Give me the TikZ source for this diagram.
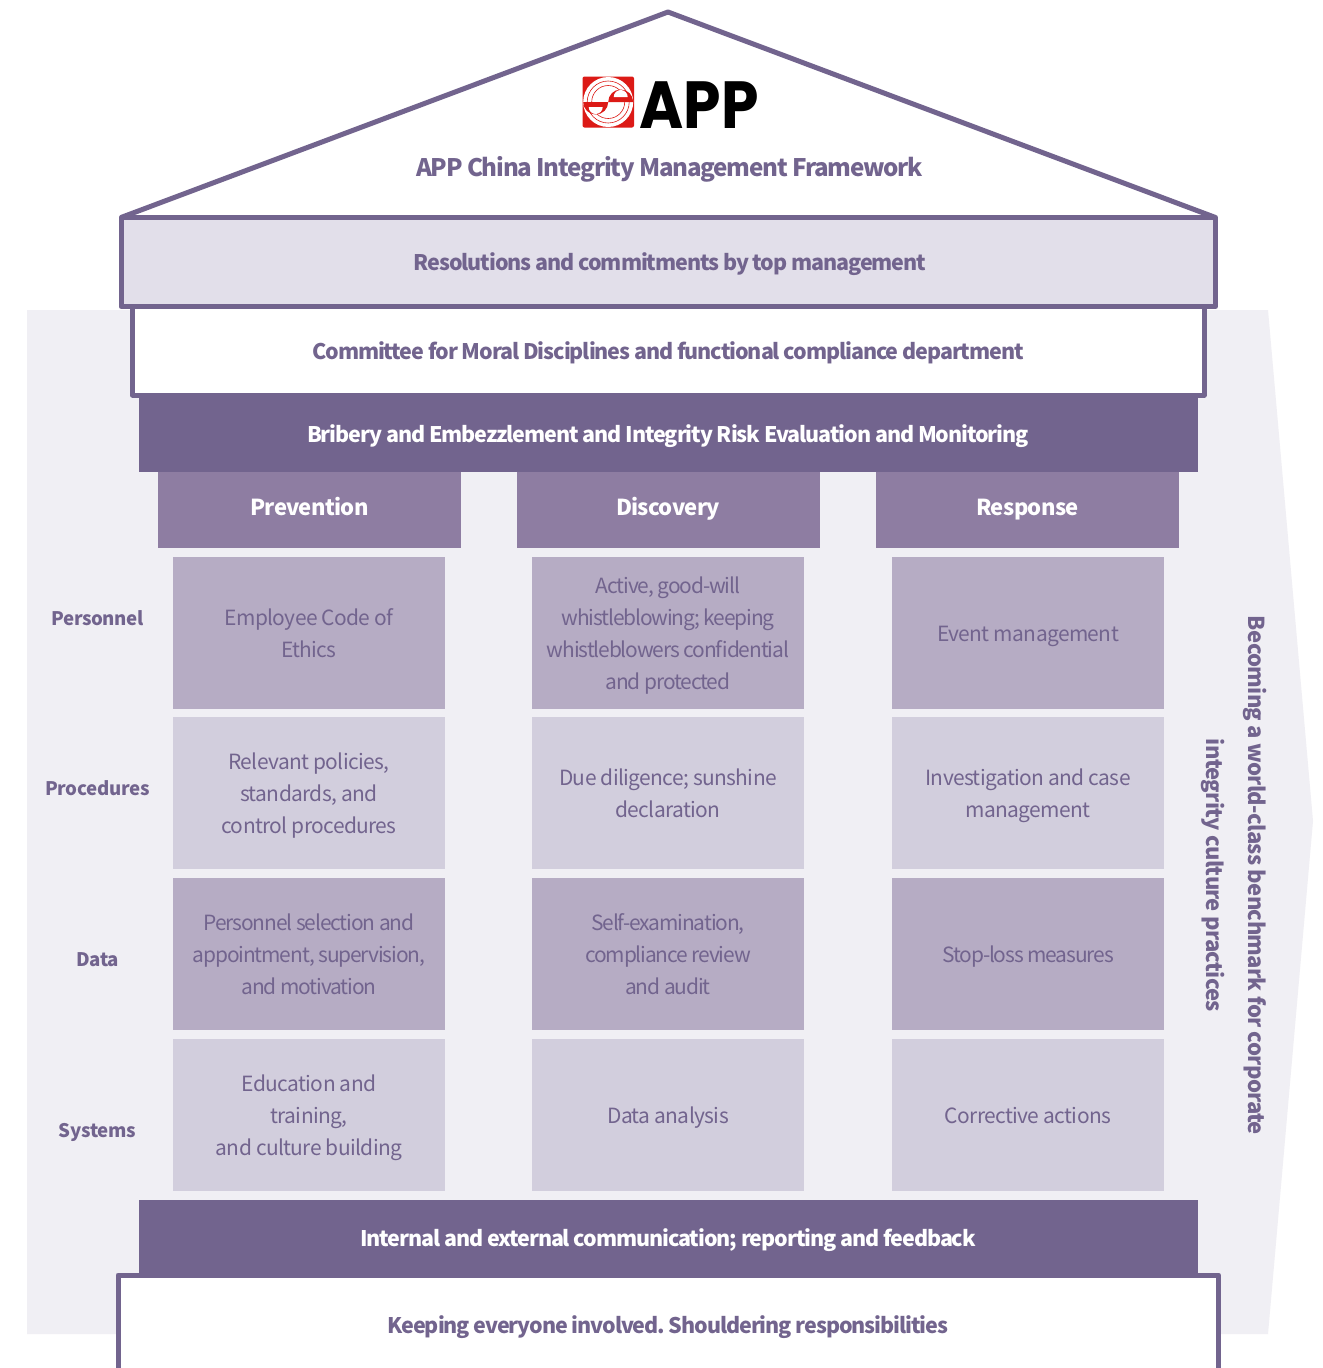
\documentclass[tikz,border=0pt]{standalone}
\usepackage{fontspec}
\setmainfont{Noto Sans CJK SC}
\newfontfamily\logofont{Poppins}
\definecolor{deep}{HTML}{72648E}
\definecolor{midp}{HTML}{8E7DA2}
\definecolor{cellA}{HTML}{B6ACC4}
\definecolor{cellB}{HTML}{D2CEDD}
\definecolor{pale}{HTML}{E2DFEA}
\definecolor{ghost}{HTML}{F0EFF4}
\definecolor{logored}{HTML}{DC1A16}
\newcommand{\trk}[1]{\addfontfeatures{LetterSpace=#1}}
\frenchspacing
\tikzset{
  x=0.75pt,y=-0.75pt,
  txt/.style={inner sep=0,outer sep=0,align=center,execute at begin node=\strut,execute at end node=\strut,yshift=-1.5pt},
  band/.style={txt,font=\fontsize{16.1}{24}\selectfont\bfseries\trk{-5}},
  head/.style={txt,font=\fontsize{16.5}{24}\selectfont\bfseries\trk{-2.9}},
  side/.style={txt,font=\fontsize{16.5}{24}\selectfont\bfseries\trk{-3.1}},
  celltight/.style={txt,text=deep,font=\fontsize{15.7}{24}\selectfont\trk{-5.4}},
  cellloose/.style={txt,text=deep,font=\fontsize{15.7}{24}\selectfont\trk{-2.9}},
  multi/.style={yshift=-2.4pt},
  rowlabel/.style={txt,text=deep,font=\fontsize{14}{20}\selectfont\bfseries\trk{-1.8}},
  frameline/.style={draw=deep,line width=3.75pt,line join=round},
}
\newcommand{\cellbox}[6]{% name, x0, y0, x1, y1, fill
  \fill[#6] (#2,#3) rectangle (#4,#5);
  \coordinate (#1) at ({(#2+#4)/2},{(#3+#5)/2});
}
\begin{document}
\begin{tikzpicture}
\useasboundingbox (0,0) rectangle (1322,1368);
\fill[white] (0,0) rectangle (1322,1368);
% arrow-shaped backdrop
\fill[ghost] (27,310) -- (1268,310) -- (1313,821) -- (1268,1334) -- (27,1334) -- cycle;
% roof
\draw[frameline] (121,217.5) -- (668,12) -- (1215.5,217.5);
% management bands
\draw[frameline,fill=white] (132.3,306.5) rectangle (1204,395);
\draw[frameline,fill=pale] (121,217.5) rectangle (1215.5,306.5);
\fill[deep] (138.5,393) rectangle (1197.7,472);
\fill[midp] (157.5,472) rectangle (461,548);
\fill[midp] (517,472) rectangle (820,548);
\fill[midp] (876,472) rectangle (1179,548);
% cells
\cellbox{c11}{173}{557}{445}{709}{cellA}
\cellbox{c12}{532}{557}{804}{709}{cellA}
\cellbox{c13}{892}{557}{1164}{709}{cellA}
\cellbox{c21}{173}{717}{445}{869}{cellB}
\cellbox{c22}{532}{717}{804}{869}{cellB}
\cellbox{c23}{892}{717}{1164}{869}{cellB}
\cellbox{c31}{173}{878}{445}{1030}{cellA}
\cellbox{c32}{532}{878}{804}{1030}{cellA}
\cellbox{c33}{892}{878}{1164}{1030}{cellA}
\cellbox{c41}{173}{1039}{445}{1191}{cellB}
\cellbox{c42}{532}{1039}{804}{1191}{cellB}
\cellbox{c43}{892}{1039}{1164}{1191}{cellB}
% base
\fill[deep] (138.5,1200) rectangle (1197.7,1276);
\fill[white] (118,1275) rectangle (1218.5,1368);
\draw[frameline] (118,1370) -- (118,1275) -- (1218.5,1275) -- (1218.5,1370);
% logo
\fill[logored,rounded corners=1.5pt] (582.5,76.5) rectangle (634,127.5);
\begin{scope}
 \clip (608.2,102) circle (25);
 \fill[white] (583,77) rectangle (634,127);
 \draw[logored,line width=.45pt] (608.2,102) circle (21);
 \draw[logored,line width=.45pt] (608.2,102) circle (16.5);
 % red halves of the S
 \fill[logored] (583.2,102) -- (608.2,102) arc (0:180:12.5) -- cycle;
 \fill[logored] (608.2,102) -- (633.2,102) arc (0:-180:12.5) -- cycle;
 \fill[white] (602.7,107) arc (0:180:7) -- cycle;
 \fill[white] (627.7,97) arc (0:-180:7) -- cycle;
\end{scope}
\node[inner sep=0,font=\fontsize{50}{50}\selectfont\logofont\bfseries] (logotext) at (699,105) {\scalebox{.9}[1]{APP}};
% texts
\node[txt,text=deep,yshift=-.7pt,font=\fontsize{18.1}{24}\selectfont\bfseries\trk{-5}] (title) at (669.5,167) {APP China Integrity Management Framework};
\node[band,text=deep] (b1) at (670,262) {Resolutions and commitments by top management};
\node[band,text=deep] (b2) at (668,351) {Committee for Moral Disciplines and functional compliance department};
\node[band,text=white] (b3) at (668,434) {Bribery and Embezzlement and Integrity Risk Evaluation and Monitoring};
\node[head,text=white] (h1) at (309.5,507) {Prevention};
\node[head,text=white] (h2) at (668,507) {Discovery};
\node[head,text=white] (h3) at (1027.5,507) {Response};
\node[rowlabel] (r1) at (97.5,618) {Personnel};
\node[rowlabel] (r2) at (97.5,788) {Procedures};
\node[rowlabel] (r3) at (97.5,959) {Data};
\node[rowlabel] (r4) at (97.5,1130) {Systems};
\node[cellloose,multi] (t11) at (c11) {Employee Code of\\Ethics};
\node[celltight,multi] (t12) at (c12) {Active, good-will\\whistleblowing; keeping\\whistleblowers confidential\\and protected};
\node[cellloose] (t13) at (c13) {Event management};
\node[cellloose,multi] (t21) at (c21) {Relevant policies,\\standards, and\\control procedures};
\node[cellloose,multi] (t22) at (c22) {Due diligence; sunshine\\declaration};
\node[cellloose,multi] (t23) at (c23) {Investigation and case\\management};
\node[celltight,multi] (t31) at (c31) {Personnel selection and\\appointment, supervision,\\and motivation};
\node[celltight,multi] (t32) at (c32) {Self-examination,\\compliance review\\and audit};
\node[celltight] (t33) at (c33) {Stop-loss measures};
\node[cellloose,multi] (t41) at (c41) {Education and\\training,\\and culture building};
\node[cellloose] (t42) at (c42) {Data analysis};
\node[cellloose] (t43) at (c43) {Corrective actions};
\node[band,text=white] (b4) at (668,1238) {Internal and external communication; reporting and feedback};
\node[band,text=deep] (b5) at (668,1325) {Keeping everyone involved. Shouldering responsibilities};
\node[side,text=deep,rotate=-90,yshift=1.5pt] (s1) at (1253,873.5) {Becoming a world-class benchmark for corporate};
\node[side,text=deep,rotate=-90,yshift=1.5pt] (s2) at (1210.5,873.5) {integrity culture practices};
\end{tikzpicture}
\end{document}
